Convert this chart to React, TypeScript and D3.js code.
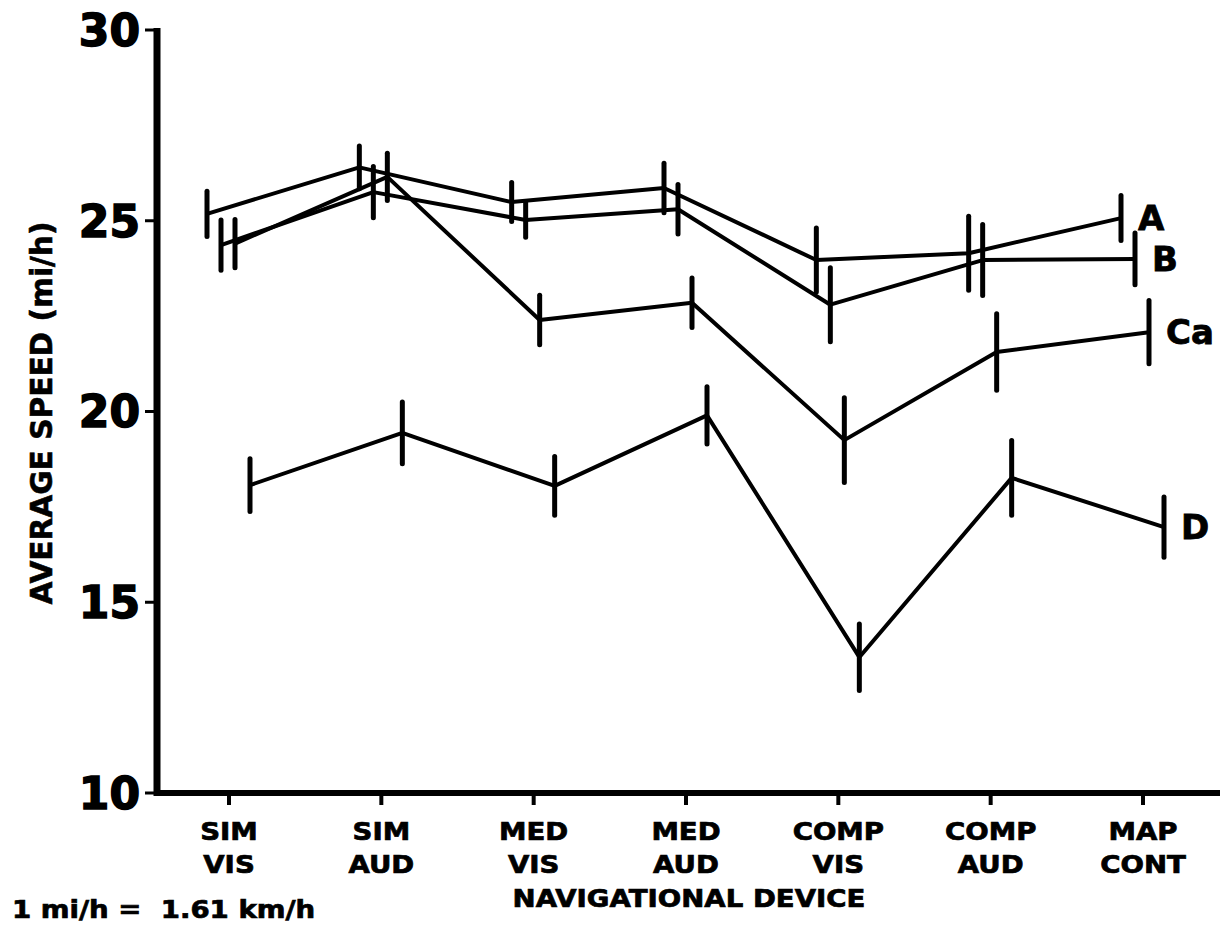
import React from 'react';
import * as d3 from 'd3';

// Navigational device conditions along the x axis
const categories = ['SIM VIS', 'SIM AUD', 'MED VIS', 'MED AUD', 'COMP VIS', 'COMP AUD', 'MAP CONT'];

// Average speed (mi/h) per group
const seriesNames = ['A', 'B', 'Ca', 'D'];
const valuesA = [25.18, 26.4, 25.49, 25.86, 23.97, 24.15, 25.07];
const valuesB = [24.36, 25.75, 25.02, 25.3, 22.8, 23.97, 24.0];
const valuesCa = [24.4, 26.15, 22.4, 22.85, 19.25, 21.56, 22.08];
const valuesD = [18.07, 19.44, 18.05, 19.9, 13.56, 18.26, 16.97];

// Half length of each error bar (mi/h)
const errorsA = [0.59, 0.56, 0.51, 0.65, 0.84, 0.97, 0.59];
const errorsB = [0.66, 0.67, 0.45, 0.65, 0.97, 0.93, 0.68];
const errorsCa = [0.63, 0.62, 0.65, 0.65, 1.11, 1.0, 0.83];
const errorsD = [0.69, 0.81, 0.77, 0.75, 0.87, 0.98, 0.79];

const yTicks = [10, 15, 20, 25, 30];

const WIDTH = 1227;
const HEIGHT = 927;
const FONT = '"DejaVu Sans", "Liberation Sans", sans-serif';

// horizontal shift of each group inside a category, so the bars don't overlap
const seriesShift: Record<string, number> = { A: -22, B: -8, Ca: 6, D: 21 };

const App: React.FC = () => {
    const x = d3.scalePoint<string>().domain(categories).range([229, 1143]);
    const y = d3.scaleLinear().domain([10, 30]).range([793, 30]);

    const allValues = [valuesA, valuesB, valuesCa, valuesD];
    const allErrors = [errorsA, errorsB, errorsCa, errorsD];

    const series = seriesNames.map((name, i) => ({
        name,
        points: categories.map((c, j) => ({
            cx: (x(c) as number) + seriesShift[name],
            value: allValues[i][j],
            err: allErrors[i][j],
        })),
    }));

    const line = d3
        .line<{ cx: number; value: number }>()
        .x((d) => d.cx)
        .y((d) => y(d.value));

    const axisLeft = 157;
    const axisRight = 1220;

    return (
        <div style={{ position: 'absolute', left: 0, top: 0 }}>
            <svg width={WIDTH} height={HEIGHT} style={{ display: 'block', background: '#fff' }}>
                <g fontFamily={FONT} fontWeight="bold" fill="#000">
                    {/* y axis */}
                    <line x1={axisLeft} x2={axisLeft} y1={y(30) - 2} y2={y(10) + 3} stroke="#000" strokeWidth={7} />
                    {yTicks.map((t) => (
                        <g key={t}>
                            <line x1={axisLeft - 12} x2={axisLeft} y1={y(t)} y2={y(t)} stroke="#000" strokeWidth={3} />
                            <text
                                x={140}
                                y={y(t)}
                                dy="0.36em"
                                textAnchor="end"
                                fontSize={44}
                                stroke="#000"
                                strokeWidth={1.5}
                            >
                                {t}
                            </text>
                        </g>
                    ))}
                    <text
                        transform={`translate(52, 413) rotate(-90)`}
                        textAnchor="middle"
                        fontSize={31}
                        textLength={383}
                        lengthAdjust="spacingAndGlyphs"
                        stroke="#000"
                        strokeWidth={0.6}
                    >
                        AVERAGE SPEED (mi/h)
                    </text>

                    {/* x axis */}
                    <line x1={axisLeft - 3} x2={axisRight} y1={y(10)} y2={y(10)} stroke="#000" strokeWidth={6} />
                    {categories.map((c) => {
                        const [top, bottom] = c.split(' ');
                        const cx = x(c) as number;
                        return (
                            <g key={c}>
                                <line x1={cx} x2={cx} y1={y(10)} y2={y(10) + 12} stroke="#000" strokeWidth={4} />
                                <text
                                    transform={`translate(${cx}, 840) scale(1.15, 1)`}
                                    textAnchor="middle"
                                    fontSize={24}
                                    stroke="#000"
                                    strokeWidth={0.7}
                                >
                                    {top}
                                </text>
                                <text
                                    transform={`translate(${cx}, 873) scale(1.15, 1)`}
                                    textAnchor="middle"
                                    fontSize={24}
                                    stroke="#000"
                                    strokeWidth={0.7}
                                >
                                    {bottom}
                                </text>
                            </g>
                        );
                    })}
                    <text
                        transform={`translate(689, 907) scale(1.15, 1)`}
                        textAnchor="middle"
                        fontSize={24}
                        stroke="#000"
                        strokeWidth={0.7}
                    >
                        NAVIGATIONAL DEVICE
                    </text>
                    <text
                        transform={`translate(12, 918) scale(1.15, 1)`}
                        fontSize={24}
                        stroke="#000"
                        strokeWidth={0.7}
                        xmlSpace="preserve"
                    >
                        1 mi/h =  1.61 km/h
                    </text>

                    {/* lines with error bars */}
                    {series.map((s) => (
                        <g key={s.name}>
                            <path d={line(s.points) || ''} fill="none" stroke="#000" strokeWidth={4} strokeLinejoin="round" />
                            {s.points.map((p, j) => (
                                <line
                                    key={j}
                                    x1={p.cx}
                                    x2={p.cx}
                                    y1={y(p.value + p.err)}
                                    y2={y(p.value - p.err)}
                                    stroke="#000"
                                    strokeWidth={5}
                                    strokeLinecap="round"
                                />
                            ))}
                            <text
                                x={s.points[s.points.length - 1].cx + 17}
                                y={y(s.points[s.points.length - 1].value)}
                                dy={12}
                                fontSize={34}
                                stroke="#000"
                                strokeWidth={0.8}
                            >
                                {s.name}
                            </text>
                        </g>
                    ))}
                </g>
            </svg>
        </div>
    );
};

export default App;
